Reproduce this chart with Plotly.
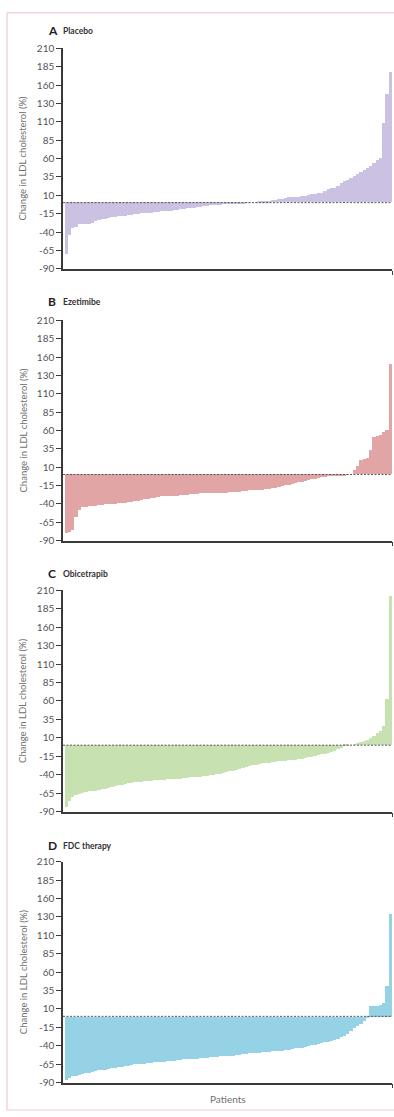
import plotly.graph_objects as go
from plotly.subplots import make_subplots

# Per-patient percentage change in LDL cholesterol, sorted within each arm
placebo = [
    -70, -44, -35, -34, -30, -30, -29, -29, -28, -25,
    -24, -23, -22, -21, -20, -20, -19, -19, -18, -17,
    -17, -16, -16, -15, -15, -14, -14, -13, -13, -12,
    -12, -11, -11, -10, -10, -9, -9, -8, -7, -7,
    -6, -6, -5, -5, -4, -4, -3, -3, -2, -2,
    -2, -1, -1, -1, -1, -0.5, -0.5, 0, 0.5, 1,
    1, 2, 2, 3, 3, 4, 5, 6, 7, 7,
    8, 8, 9, 9, 10, 11, 12, 13, 13, 15,
    18, 20, 20, 23, 27, 29, 31, 33, 36, 38,
    41, 44, 47, 50, 54, 58, 60, 108, 147, 178,
]

ezetimibe = [
    -80, -78, -76, -58, -49, -45, -44, -43, -43, -43,
    -42, -42, -41, -41, -40, -40, -39, -39, -39, -38,
    -38, -37, -36, -35, -34, -33, -32, -32, -31, -30,
    -30, -30, -29, -29, -29, -28, -28, -28, -27, -27,
    -27, -26, -26, -26, -26, -25, -25, -25, -25, -25,
    -24, -24, -24, -24, -23, -23, -22, -22, -21, -21,
    -21, -20, -20, -19, -18, -17, -16, -15, -14, -13,
    -12, -11, -10, -9, -8, -7, -6, -5, -4, -4,
    -3, -3, -2, -2, -1, -1, -0.5, 0, 6, 11,
    20, 21, 22, 33, 51, 52, 54, 58, 60, 150,
]

obicetrapib = [
    -84, -76, -71, -68, -66, -65, -64, -63, -63, -62,
    -61, -60, -60, -59, -57, -56, -55, -55, -53, -52,
    -52, -51, -51, -50, -49, -49, -49, -48, -48, -48,
    -48, -47, -47, -47, -46, -46, -45, -45, -44, -44,
    -43, -43, -42, -42, -41, -41, -40, -39, -38, -37,
    -36, -35, -34, -33, -31, -30, -29, -28, -27, -26,
    -25, -24, -24, -23, -23, -22, -22, -22, -21, -21,
    -20, -19, -19, -18, -17, -16, -15, -14, -13, -12,
    -11, -10, -8, -6, -4, -2, -1, 0, 1, 3,
    4, 5, 7, 9, 12, 16, 19, 25, 62, 202,
]

fdc_therapy = [
    -86, -83, -81, -80, -79, -78, -77, -76, -75, -74,
    -73, -73, -72, -71, -70, -70, -69, -68, -67, -67,
    -66, -65, -65, -64, -64, -63, -63, -62, -62, -61,
    -61, -60, -60, -60, -59, -59, -58, -58, -57, -57,
    -57, -56, -56, -56, -55, -55, -55, -54, -54, -53,
    -53, -53, -52, -52, -51, -51, -50, -50, -49, -49,
    -48, -48, -48, -47, -47, -46, -46, -45, -45, -44,
    -43, -42, -42, -41, -40, -39, -38, -37, -36, -35,
    -34, -33, -32, -30, -28, -26, -24, -20, -16, -13,
    -10, -6, -2, 14, 14, 15, 16, 18, 41, 140,
]

panel_letters = ["A", "B", "C", "D"]
panel_names = ["Placebo", "Ezetimibe", "Obicetrapib", "FDC therapy"]
bar_colors = ["#cbc1e2", "#e2a5a5", "#c8e1b1", "#96d2e6"]
series = [placebo, ezetimibe, obicetrapib, fdc_therapy]

y_tick_values = [210, 185, 160, 135, 110, 85, 60, 35, 10, -15, -40, -65, -90]
y_tick_labels = ["210", "185", "160", "130", "110", "85", "60", "35", "10",
                 "-15", "-40", "-65", "-90"]

W, H = 394, 1117
ML, MR = 63, 2
PW = W - ML - MR

# panel vertical extents in pixels (top, bottom)
panel_px = [(42.7, 265.7), (317.7, 540.5), (590.7, 814.3), (865.0, 1088.3)]
title_px = [25, 299, 574, 849]


def px_x(p):
    return (p - ML) / PW


def px_y(p):
    return 1 - p / H


FONT = "Lato, 'Open Sans', sans-serif"
AXIS_COL = "#3a3a3a"

fig = make_subplots(rows=4, cols=1)

for k, vals in enumerate(series):
    row = k + 1
    idx = list(range(len(vals)))
    fig.add_trace(
        go.Bar(
            x=idx, y=vals, width=1.0,
            marker=dict(color=bar_colors[k], line=dict(width=0)),
            hoverinfo="skip", showlegend=False,
        ),
        row=row, col=1,
    )
    top, bot = panel_px[k]
    ya = "yaxis" if k == 0 else f"yaxis{row}"
    fig.layout[ya].domain = [px_y(bot), px_y(top)]
    fig.update_yaxes(
        range=[-90, 210], tickmode="array", tickvals=y_tick_values, ticktext=y_tick_labels,
        ticks="outside", ticklen=5, tickwidth=1, tickcolor=AXIS_COL,
        showline=True, linecolor=AXIS_COL, linewidth=1.5,
        showgrid=False, zeroline=False,
        tickfont=dict(family=FONT, size=10, color="#555555"),
        row=row, col=1,
    )
    fig.update_xaxes(
        range=[-1.0, len(vals) - 0.5], tickmode="array", tickvals=[len(vals) - 0.5],
        ticks="outside", ticklen=4, tickwidth=1, tickcolor=AXIS_COL,
        showticklabels=False, showline=True, linecolor=AXIS_COL, linewidth=1.5,
        showgrid=False, zeroline=False,
        row=row, col=1,
    )
    # reference line at no change
    fig.add_hline(y=0, line=dict(color="#555555", width=1, dash="2px,1.5px"),
                  layer="above", row=row, col=1)

    # panel heading
    fig.add_annotation(
        text=f"<b>{panel_letters[k]}</b>", xref="paper", yref="paper",
        x=px_x(45.5), y=px_y(title_px[k]), xanchor="left", yanchor="middle",
        showarrow=False, font=dict(family=FONT, size=12, color="#222222"),
    )
    fig.add_annotation(
        text=f"<b>{panel_names[k]}</b>", xref="paper", yref="paper",
        x=px_x(61), y=px_y(title_px[k] + 0.5), xanchor="left", yanchor="middle",
        showarrow=False, font=dict(family=FONT, size=8.5, color="#333333"),
    )
    # y-axis title
    fig.add_annotation(
        text="Change in LDL cholesterol (%)", xref="paper", yref="paper",
        x=px_x(23), y=px_y((top + bot) / 2), xanchor="center", yanchor="middle",
        textangle=-90, showarrow=False,
        font=dict(family=FONT, size=9.5, color="#707070"),
    )

fig.add_annotation(
    text="Patients", xref="paper", yref="paper",
    x=px_x(228), y=px_y(1105), xanchor="center", yanchor="middle",
    showarrow=False, font=dict(family=FONT, size=10, color="#707070"),
)

# thin pink frame around the figure
fig.add_shape(
    type="rect", xref="paper", yref="paper",
    x0=px_x(7), x1=px_x(410), y0=px_y(1116), y1=px_y(7),
    line=dict(color="#f1c9d3", width=1.2), fillcolor="rgba(0,0,0,0)", layer="below",
)

fig.update_layout(
    width=W, height=H, margin=dict(l=ML, r=MR, t=0, b=0),
    paper_bgcolor="white", plot_bgcolor="white",
    bargap=0, barmode="relative",
    font=dict(family=FONT),
)

fig.write_html("out.html")
